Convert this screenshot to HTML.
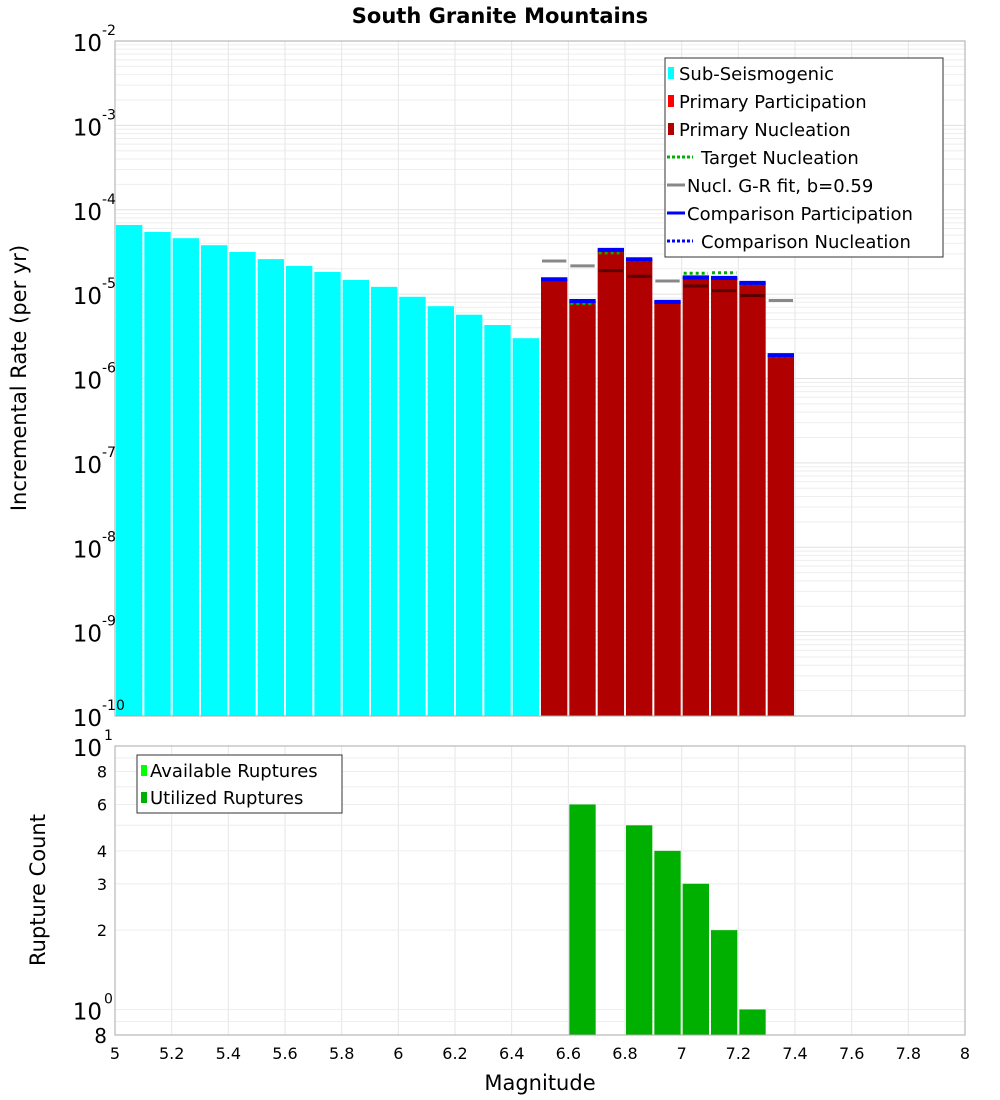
<!DOCTYPE html>
<html><head><meta charset="utf-8"><style>
body{margin:0;background:#fff;}
svg{display:block;font-family:"DejaVu Sans","Liberation Sans",sans-serif;}
</style></head><body>
<svg id="c" width="1000" height="1100" xmlns="http://www.w3.org/2000/svg">
<text x="500" y="23" text-anchor="middle" font-size="21" font-weight="bold">South Granite Mountains</text>
<g id="gtop"></g><g id="gbot"></g>
</svg>
<script>
const subMags=[5.05,5.15,5.25,5.35,5.45,5.55,5.65,5.75,5.85,5.95,6.05,6.15,6.25,6.35,6.45];
const subRates=[6.6e-5,5.46e-5,4.6e-5,3.8e-5,3.16e-5,2.6e-5,2.16e-5,1.83e-5,1.47e-5,1.22e-5,9.3e-6,7.2e-6,5.7e-6,4.3e-6,3.0e-6];
const priMags=[6.55,6.65,6.75,6.85,6.95,7.05,7.15,7.25,7.35];
const nuclRates=[1.5e-5,8.3e-6,3.34e-5,2.59e-5,8.1e-6,1.58e-5,1.56e-5,1.36e-5,1.89e-6];
const compRates=[1.5e-5,8.3e-6,3.34e-5,2.59e-5,8.1e-6,1.58e-5,1.56e-5,1.36e-5,1.89e-6];
const targetRates=[1.5e-5,7.7e-6,3.08e-5,2.55e-5,8.0e-6,1.77e-5,1.79e-5,1.33e-5,1.85e-6];
const grRates=[2.47e-5,2.16e-5,1.9e-5,1.63e-5,1.43e-5,1.25e-5,1.1e-5,9.6e-6,8.4e-6];
const cntMags=[6.65,6.85,6.95,7.05,7.15,7.25];
const cntValues=[6,5,4,3,2,1];
const xTicks=[5,5.2,5.4,5.6,5.8,6,6.2,6.4,6.6,6.8,7,7.2,7.4,7.6,7.8,8];
const xTickLabels=["5","5.2","5.4","5.6","5.8","6","6.2","6.4","6.6","6.8","7","7.2","7.4","7.6","7.8","8"];
const yExps=[-2,-3,-4,-5,-6,-7,-8,-9,-10];
const cntTicks=[8,6,4,3,2];

const NS="http://www.w3.org/2000/svg";
const L=115,R=965,T1=41,B1=716,T2=746,B2=1035;
const x=m=>L+(m-5)*(R-L)/3;
const y1=v=>T1+(-2-Math.log10(v))*(B1-T1)/8;
const y2=v=>T2+(1-Math.log10(v))*(B2-T2)/(1-Math.log10(0.8));
function el(p,tag,a,txt){const e=document.createElementNS(NS,tag);for(const k in a)e.setAttribute(k,a[k]);if(txt!==undefined)e.textContent=txt;p.appendChild(e);return e;}
const gTop=document.getElementById('gtop'),gBot=document.getElementById('gbot');

for(let d=-10;d<-2;d++){for(let k=1;k<10;k++){const yy=y1(k*Math.pow(10,d));const g=el(gTop,'line',{x1:L,x2:R,y1:yy,y2:yy,stroke:k==1?'#e0e0e0':'#eeeeee','stroke-width':1});

}}
xTicks.forEach(t=>{const g=el(gTop,'line',{x1:x(t),x2:x(t),y1:T1,y2:B1,stroke:'#e6e6e6'});


const g2=el(gBot,'line',{x1:x(t),x2:x(t),y1:T2,y2:B2,stroke:'#e6e6e6'});

});
[10,9,8,7,6,5,4,3,2,1,0.9].forEach(v=>{const g=el(gBot,'line',{x1:L,x2:R,y1:y2(v),y2:y2(v),stroke:'#eeeeee'});

});

const bw=(R-L)/30;
subMags.forEach((m,i)=>{const yy=y1(subRates[i]);const b=el(gTop,'rect',{x:x(m)-bw/2+1,y:yy,width:bw-2,height:B1-yy,fill:'#00ffff'});

});
priMags.forEach((m,i)=>{const yy=y1(nuclRates[i]);const b=el(gTop,'rect',{x:x(m)-bw/2+1,y:yy,width:bw-2,height:B1-yy,fill:'#b00000'});

});
priMags.forEach((m,i)=>{const yy=y1(grRates[i]);const inside=grRates[i]<nuclRates[i];const g=el(gTop,'line',{x1:x(m)-bw/2+2,x2:x(m)+bw/2-2,y1:yy,y2:yy,stroke:inside?'#5a0000':'#888888','stroke-width':3});

});
priMags.forEach((m,i)=>{const yy=y1(targetRates[i]);const g=el(gTop,'line',{x1:x(m)-bw/2+2,x2:x(m)+bw/2-2,y1:yy,y2:yy,stroke:'#00b000','stroke-width':3,'stroke-dasharray':'3,3'});

});
priMags.forEach((m,i)=>{const yy=y1(compRates[i]);const g=el(gTop,'line',{x1:x(m)-bw/2+1,x2:x(m)+bw/2-1,y1:yy,y2:yy,stroke:'#0000ff','stroke-width':4});

});
el(gTop,'rect',{x:L,y:T1,width:R-L,height:B1-T1,fill:'none',stroke:'#aaaaaa'});

yExps.forEach(e=>{const yy=y1(Math.pow(10,e));const t=el(gTop,'text',{x:102,y:yy+10,'text-anchor':'end','font-size':23},'10');


const s=el(gTop,'text',{x:102,y:yy-6,'font-size':14},String(e));

});
const yt=el(gTop,'text',{x:26,y:378,'text-anchor':'middle','font-size':21,transform:'rotate(-90 26 378)'},'Incremental Rate (per yr)');



const lg=el(gTop,'g',{});


el(lg,'rect',{x:665,y:58,width:278,height:199,fill:'#fff',stroke:'#333'});
const items=[['sq','#00ffff','Sub-Seismogenic'],['sq','#ff0000','Primary Participation'],['sq','#b00000','Primary Nucleation'],['dot','#00b000','Target Nucleation'],['line','#888888','Nucl. G-R fit, b=0.59'],['line','#0000ff','Comparison Participation'],['dot','#0000ff','Comparison Nucleation']];
items.forEach((it,i)=>{const yy=73+i*28;
if(it[0]=='sq')el(lg,'rect',{x:668,y:yy-6,width:6,height:12,fill:it[1]});
else if(it[0]=='line')el(lg,'line',{x1:667,x2:685,y1:yy,y2:yy,stroke:it[1],'stroke-width':3});
else el(lg,'line',{x1:667,x2:693,y1:yy,y2:yy,stroke:it[1],'stroke-width':3,'stroke-dasharray':'3,2'});
const t=el(lg,'text',{x:it[0]=='sq'?679:(it[0]=='line'?687:701),y:yy+7,'font-size':18},it[2]);

});

cntMags.forEach((m,i)=>{const yy=y2(cntValues[i]);const b=el(gBot,'rect',{x:x(m)-bw/2+1,y:yy,width:bw-2,height:B2-yy,fill:'#00b000'});

});
el(gBot,'rect',{x:L,y:T2,width:R-L,height:B2-T2,fill:'none',stroke:'#aaaaaa'});
cntTicks.forEach(v=>{const t=el(gBot,'text',{x:107,y:y2(v)+6,'text-anchor':'end','font-size':16},String(v));

});
[[1,'1'],[0,'0']].forEach(p=>{const yy=y2(Math.pow(10,p[0]));const t=el(gBot,'text',{x:102,y:yy+10,'text-anchor':'end','font-size':23},'10');


const s=el(gBot,'text',{x:104,y:yy-6,'font-size':14},p[1]);

});
const b8=el(gBot,'text',{x:107,y:B2+8,'text-anchor':'end','font-size':20},'8');


const yt2=el(gBot,'text',{x:45,y:890,'text-anchor':'middle','font-size':21,transform:'rotate(-90 45 890)'},'Rupture Count');


xTicks.forEach((t,i)=>{const e=el(gBot,'text',{x:x(t),y:1059,'text-anchor':'middle','font-size':16},xTickLabels[i]);

});
const xt=el(gBot,'text',{x:540,y:1090,'text-anchor':'middle','font-size':21},'Magnitude');


const lg2=el(gBot,'g',{});


el(lg2,'rect',{x:137,y:755,width:205,height:58,fill:'#fff',stroke:'#333'});
[['#00ff00','Available Ruptures'],['#00b000','Utilized Ruptures']].forEach((it,i)=>{const yy=770+i*27;
el(lg2,'rect',{x:141,y:yy-5,width:6,height:11,fill:it[0]});
const t=el(lg2,'text',{x:150,y:yy+7,'font-size':18},it[1]);

});
</script>
</body></html>
